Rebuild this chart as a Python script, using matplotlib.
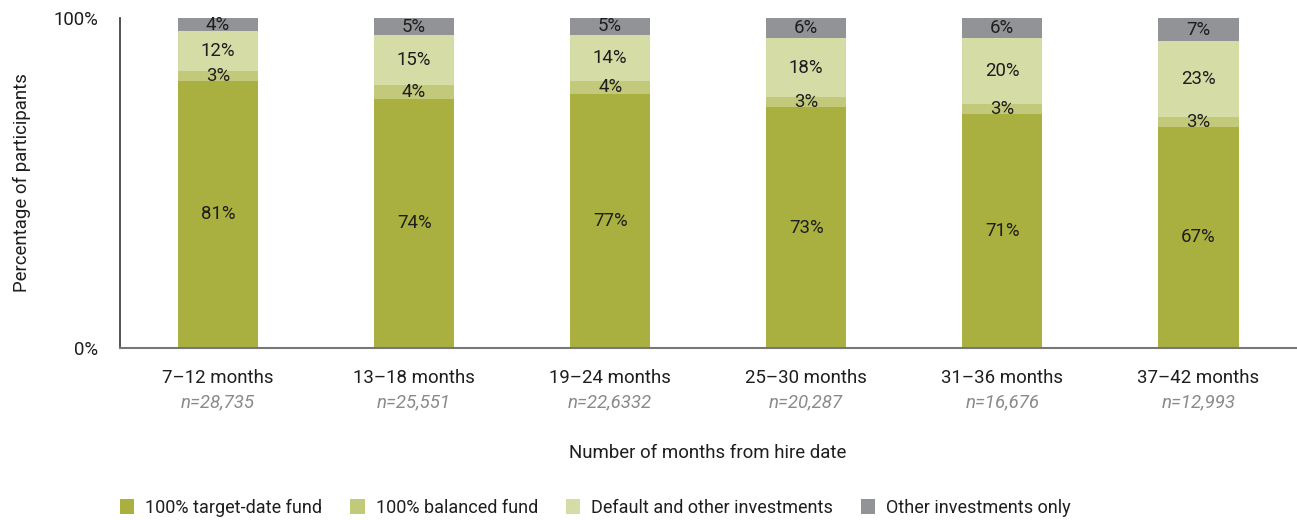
import numpy as np
import matplotlib.pyplot as plt
from matplotlib.patches import Patch
from matplotlib.transforms import blended_transform_factory

# ----------------------------------------------------------------------
# Data
# ----------------------------------------------------------------------
categories = ["7–12 months", "13–18 months", "19–24 months",
              "25–30 months", "31–36 months", "37–42 months"]
sample_sizes = ["n=28,735", "n=25,551", "n=22,6332",
                "n=20,287", "n=16,676", "n=12,993"]

target_date = [81, 74, 77, 73, 71, 67]
balanced = [3, 4, 4, 3, 3, 3]
default_other = [12, 15, 14, 18, 20, 23]
other_only = [4, 5, 5, 6, 6, 7]

series_names = ["100% target-date fund", "100% balanced fund",
                "Default and other investments", "Other investments only"]
colors = ["#A9B03F", "#C2C97B", "#D6DCA6", "#929397"]

# ----------------------------------------------------------------------
# Plot
# ----------------------------------------------------------------------
plt.rcParams["font.family"] = ["Roboto", "DejaVu Sans"]
FS = 13.4
TXT = "#1e1e1e"

fig = plt.figure(figsize=(12.97, 5.2), dpi=100)
ax = fig.add_axes([0.0925, 0.331, 0.907, 0.634])

series = np.array([target_date, balanced, default_other, other_only], dtype=float)
totals = series.sum(axis=0)
shares = series / totals * 100  # bars are drawn to full height
x = np.arange(len(categories))
bottom = np.zeros(len(categories))

for vals, shown, color in zip(shares, series, colors):
    ax.bar(x, vals, bottom=bottom, width=0.41, color=color, linewidth=0)
    for xi, b, v, s in zip(x, bottom, vals, shown):
        ax.text(xi, b + v / 2, f"{int(s)}%", ha="center", va="center",
                fontsize=FS, color=TXT)
    bottom += vals

ax.set_xlim(-0.5, len(categories) - 0.5)
ax.set_ylim(0, 100)
ax.set_yticks([0, 100])
ax.set_yticklabels(["0%", "100%"], fontsize=FS, color=TXT)
ax.tick_params(axis="y", length=0, pad=16)
ax.tick_params(axis="x", length=0, pad=15)
ax.set_xticks(x)
ax.set_xticklabels(categories, fontsize=FS, color=TXT)

trans = blended_transform_factory(ax.transData, ax.transAxes)
for xi, n in zip(x, sample_sizes):
    ax.text(xi, -0.165, n, transform=trans, ha="center", va="center",
            fontsize=FS, color="#8a8a8a", style="italic")

for side in ("top", "right"):
    ax.spines[side].set_visible(False)
ax.spines["left"].set_color("#444444")
ax.spines["bottom"].set_color("#777777")
ax.spines["left"].set_linewidth(1.3)
ax.spines["bottom"].set_linewidth(1.5)

ax.set_ylabel("Percentage of participants", fontsize=FS, color=TXT, labelpad=16)
fig.text(0.546, 0.128, "Number of months from hire date", ha="center", va="center",
         fontsize=FS, color=TXT)

handles = [Patch(facecolor=c, edgecolor="none") for c in colors]
leg = fig.legend(handles, series_names, loc="center left", bbox_to_anchor=(0.08, 0.023),
                 ncol=4, frameon=False, fontsize=13, handlelength=0.8, handleheight=0.9,
                 handletextpad=0.6, columnspacing=1.55)
for t in leg.get_texts():
    t.set_color(TXT)

fig.savefig("out.png", dpi=100)
